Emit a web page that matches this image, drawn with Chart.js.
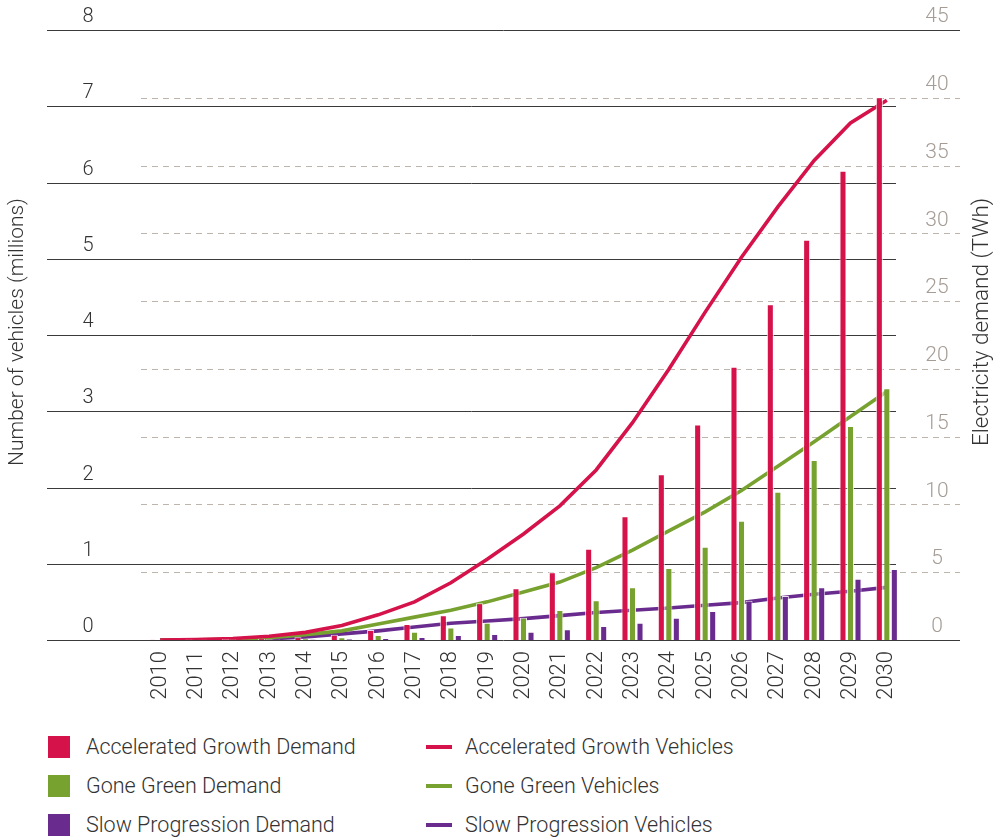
<!DOCTYPE html>
<html>
<head>
<meta charset="utf-8">
<script src="https://cdn.jsdelivr.net/npm/chart.js@4.4.1/dist/chart.umd.min.js"></script>
<style>
  html, body { margin: 0; padding: 0; background: #fff; }
  body { width: 994px; height: 838px; position: relative; overflow: hidden;
         font-family: Roboto, 'Liberation Sans', Arial, sans-serif; font-weight: 300; color: #333; }
  #wrap { position: absolute; left: 0; top: 0; width: 994px; height: 720px; }
  #legend { position: absolute; left: 0; top: 720px; width: 994px; height: 118px; }
  .item { position: absolute; font-size: 21.5px; line-height: 22px; white-space: nowrap; }
  .sw { position: absolute; }
</style>
</head>
<body>
<div id="wrap"><canvas id="chart"></canvas></div>
<div id="legend"></div>
<script>
// categories
const years = ['2010', '2011', '2012', '2013', '2014', '2015', '2016', '2017', '2018', '2019', '2020',
               '2021', '2022', '2023', '2024', '2025', '2026', '2027', '2028', '2029', '2030'];

// electricity demand (TWh) - right axis
const acceleratedDemand = [0.02, 0.03, 0.05, 0.1, 0.2, 0.38, 0.74, 1.18, 1.82, 2.71, 3.81,
                           5.0, 6.74, 9.12, 12.22, 15.9, 20.16, 24.76, 29.53, 34.62, 40.03];
const goneGreenDemand = [0.01, 0.02, 0.03, 0.05, 0.1, 0.2, 0.37, 0.61, 0.93, 1.28, 1.65,
                         2.21, 2.93, 3.89, 5.31, 6.88, 8.8, 10.94, 13.28, 15.79, 18.57];
const slowDemand = [0, 0.01, 0.02, 0.03, 0.05, 0.07, 0.15, 0.22, 0.37, 0.44, 0.61,
                    0.79, 1.03, 1.28, 1.65, 2.14, 2.9, 3.25, 3.89, 4.52, 5.24];

// number of vehicles (millions) - left axis
const acceleratedVehicles = [0, 0.005, 0.02, 0.05, 0.1, 0.19, 0.33, 0.5, 0.75, 1.06, 1.39,
                             1.76, 2.23, 2.85, 3.55, 4.3, 5.02, 5.68, 6.29, 6.78, 7.08];
const goneGreenVehicles = [0, 0.003, 0.01, 0.03, 0.07, 0.12, 0.21, 0.3, 0.39, 0.5, 0.63,
                           0.76, 0.95, 1.18, 1.43, 1.68, 1.96, 2.28, 2.6, 2.93, 3.26];
const slowVehicles = [0, 0, 0.005, 0.015, 0.04, 0.08, 0.12, 0.17, 0.22, 0.25, 0.28,
                      0.32, 0.36, 0.39, 0.42, 0.455, 0.49, 0.55, 0.6, 0.64, 0.69];

// tick labels
const leftTicks = [0, 1, 2, 3, 4, 5, 6, 7, 8];
const rightTicks = [0, 5, 10, 15, 20, 25, 30, 35, 40, 45];

const RED = '#d5124a';
const GREEN = '#78a22f';
const PURPLE = '#6a2b8f';
const FONT = "Roboto, 'Liberation Sans', Arial, sans-serif";

function barSet(label, data, color) {
    return {
        type: 'bar', label: label, data: data, yAxisID: 'yR', order: 0,
        backgroundColor: color, borderColor: 'rgba(255,255,255,0.85)', borderWidth: 1,
        categoryPercentage: 0.62, barPercentage: 0.94
    };
}

function lineSet(label, data, color) {
    return {
        type: 'line', label: label, data: data, yAxisID: 'yL', order: 1,
        borderColor: color, backgroundColor: color, borderWidth: 3.6,
        pointRadius: 0, tension: 0, fill: false
    };
}

// gridlines, axis labels and titles drawn from the scales
const axisDecor = {
    id: 'axisDecor',
    beforeDatasetsDraw(chart) {
        const ctx = chart.ctx;
        const yL = chart.scales.yL;
        const yR = chart.scales.yR;
        ctx.save();
        // dashed gridlines for the right axis
        ctx.strokeStyle = '#bdb4ac';
        ctx.lineWidth = 1;
        ctx.setLineDash([6, 5]);
        rightTicks.forEach(function(v) {
            if (v === 0 || v === 45) return;
            const y = Math.round(yR.getPixelForValue(v)) + 0.5;
            ctx.beginPath();
            ctx.moveTo(141, y);
            ctx.lineTo(960, y);
            ctx.stroke();
        });
        // solid gridlines for the left axis
        ctx.setLineDash([]);
        ctx.strokeStyle = '#3a3a3a';
        leftTicks.forEach(function(v) {
            const y = Math.round(yL.getPixelForValue(v)) + 0.5;
            const end = (v === 0 || v === 8) ? 960 : 896;
            ctx.beginPath();
            ctx.moveTo(47, y);
            ctx.lineTo(end, y);
            ctx.stroke();
        });
        ctx.restore();
    },
    afterDraw(chart) {
        const ctx = chart.ctx;
        const yL = chart.scales.yL;
        const yR = chart.scales.yR;
        ctx.save();
        ctx.font = '300 20px ' + FONT;
        ctx.textAlign = 'center';
        ctx.textBaseline = 'middle';
        ctx.fillStyle = '#333';
        leftTicks.forEach(function(v) {
            ctx.fillText(String(v), 88, yL.getPixelForValue(v) - 13);
        });
        ctx.font = '300 21px ' + FONT;
        ctx.fillStyle = '#a59c95';
        rightTicks.forEach(function(v) {
            ctx.fillText(String(v), 937, yR.getPixelForValue(v) - 13);
        });
        // axis titles
        ctx.fillStyle = '#333';
        ctx.font = '300 21px ' + FONT;
        ctx.save();
        ctx.translate(18, 332);
        ctx.rotate(-Math.PI / 2);
        ctx.fillText('Number of vehicles (millions)', 0, 0);
        ctx.restore();
        ctx.font = '300 22.5px ' + FONT;
        ctx.save();
        ctx.translate(982, 322);
        ctx.rotate(-Math.PI / 2);
        ctx.fillText('Electricity demand (TWh)', 0, 0);
        ctx.restore();
        ctx.restore();
    }
};

const datasets = [
    barSet('Accelerated Growth Demand', acceleratedDemand, RED),
    barSet('Gone Green Demand', goneGreenDemand, GREEN),
    barSet('Slow Progression Demand', slowDemand, PURPLE),
    lineSet('Accelerated Growth Vehicles', acceleratedVehicles, RED),
    lineSet('Gone Green Vehicles', goneGreenVehicles, GREEN),
    lineSet('Slow Progression Vehicles', slowVehicles, PURPLE)
];

const chart = new Chart(document.getElementById('chart'), {
    data: { labels: years, datasets: datasets },
    options: {
        responsive: true,
        maintainAspectRatio: false,
        animation: false,
        layout: { padding: { left: 142, right: 89, top: 30, bottom: 0 } },
        plugins: { legend: { display: false }, tooltip: { enabled: false } },
        scales: {
            x: {
                offset: true,
                grid: { display: false, drawTicks: false },
                border: { display: false },
                ticks: {
                    color: '#333', padding: 11, minRotation: 90, maxRotation: 90,
                    font: { family: FONT, size: 22, weight: 300 }
                },
                afterFit: function(scale) { scale.height = 80; }
            },
            yL: {
                position: 'left', display: false, min: 0, max: 8,
                ticks: { stepSize: 1 }
            },
            yR: {
                position: 'right', display: false, min: 0, max: 45,
                ticks: { stepSize: 5 }
            }
        }
    },
    plugins: [axisDecor]
});

// legend built from the datasets
const legend = document.getElementById('legend');
const rowTops = [16, 55, 94];
datasets.forEach(function(ds, i) {
    const col = i < 3 ? 0 : 1;
    const row = i % 3;
    const sw = document.createElement('div');
    sw.className = 'sw';
    if (col === 0) {
        sw.style.left = '48px';
        sw.style.top = rowTops[row] + 'px';
        sw.style.width = '22px';
        sw.style.height = '22px';
        sw.style.background = ds.backgroundColor;
    } else {
        sw.style.left = '426px';
        sw.style.top = (rowTops[row] + 9) + 'px';
        sw.style.width = '26px';
        sw.style.height = '4px';
        sw.style.background = ds.borderColor;
    }
    legend.appendChild(sw);
    const t = document.createElement('div');
    t.className = 'item';
    t.style.left = (col === 0 ? 86 : 465) + 'px';
    t.style.top = rowTops[row] + 'px';
    t.textContent = ds.label;
    legend.appendChild(t);
});
</script>
</body>
</html>
